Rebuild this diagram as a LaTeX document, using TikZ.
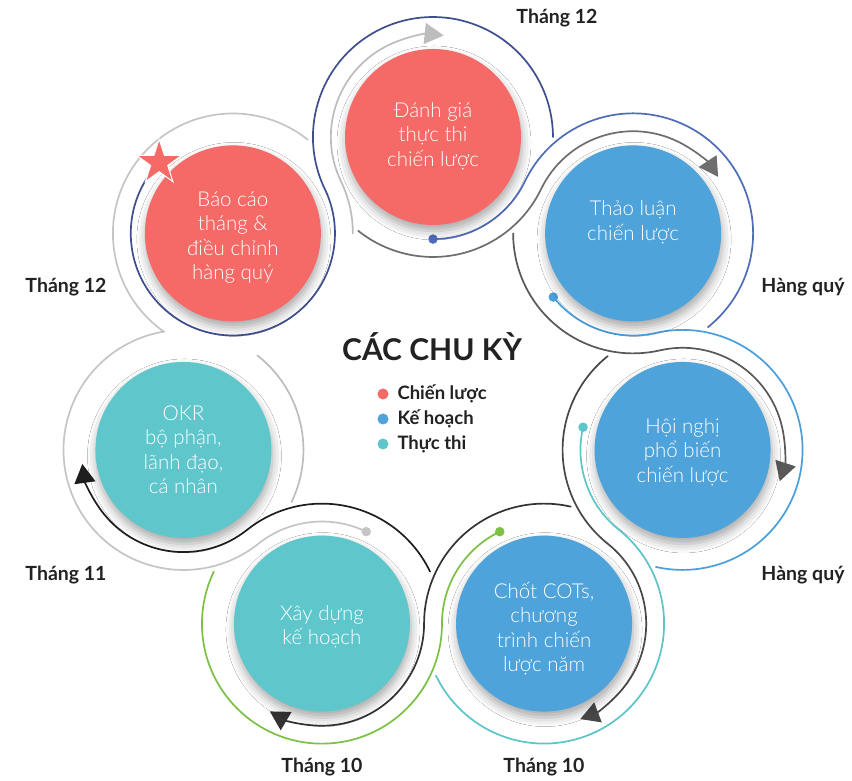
\documentclass[tikz,border=0pt]{standalone}
\usepackage{fontspec}
\setmainfont{Lato}
\newfontfamily\lightfont{Lato Light}
\usetikzlibrary{calc,shapes.geometric,arrows.meta,shadows.blur}
\definecolor{cred}{HTML}{F56A67}
\definecolor{cblue}{HTML}{4FA3DB}
\definecolor{cteal}{HTML}{5FC7CC}
\definecolor{cnavy}{HTML}{3F4E8C}
\definecolor{cbA}{HTML}{4E6CB8}
\definecolor{cbB}{HTML}{4A9FDB}
\definecolor{cbC}{HTML}{5BC6CA}
\definecolor{cbD}{HTML}{7BC143}
\definecolor{cbE}{HTML}{C5C5C5}
\definecolor{caL}{HTML}{BDBDBD}
\definecolor{caA}{HTML}{6E6E6E}
\definecolor{caB}{HTML}{585858}
\definecolor{caC}{HTML}{474747}
\definecolor{caD}{HTML}{333333}
\definecolor{caE}{HTML}{1E1E1E}
\definecolor{ctext}{HTML}{222222}
\tikzset{
  ln/.style={line width=1.7pt, line cap=round},
  arr/.style={-{Triangle[length=19pt,width=21pt]}},
  dotst/.style={circle, inner sep=0pt, minimum size=9.5pt},
  disc/.style={circle, minimum size=176pt, inner sep=0pt,
    blur shadow={shadow xshift=1pt, shadow yshift=-6pt, shadow blur radius=9pt, shadow opacity=35}},
  intext/.style={text=white, align=center, font=\lightfont\fontsize{20.5}{24.5}\selectfont},
  lbl/.style={font=\fontsize{19.5}{23}\selectfont\bfseries, text=ctext},
  leg/.style={font=\fontsize{18.5}{21}\selectfont\bfseries, text=ctext, anchor=west},
  legdot/.style={circle, inner sep=0pt, minimum size=11pt},
}
\begin{document}
\begin{tikzpicture}[x=1pt,y=1pt]
\useasboundingbox (0,0) rectangle (852,781);
\fill[white] (0,0) rectangle (852,781);
\def\R{256}\def\ro{120}\def\ri{102.1}
\coordinate (O) at (433,388);
\foreach \k in {0,...,6} { \coordinate (P\k) at ($(O)+({90-\k*360/7}:\R)$); }

% coloured "dot" lines
\draw[ln, cbA] ($(P0)+(-90:\ri)$) arc[start angle=-90, end angle=-25.7143, radius=\ri]
  arc[start angle=154.2857, end angle=-51.4286, radius=\ro];
\draw[ln, cbB] ($(P1)+(-141.4286:\ri)$) arc[start angle=-141.4286, end angle=-77.1429, radius=\ri]
  arc[start angle=102.8571, end angle=-102.8571, radius=\ro];
\draw[ln, cbC] ($(P2)+(-192.8571:\ri)$) arc[start angle=-192.8571, end angle=-128.5714, radius=\ri]
  arc[start angle=51.4286, end angle=-154.2857, radius=\ro];
\draw[ln, cbD] ($(P3)+(-244.2857:\ri)$) arc[start angle=-244.2857, end angle=-180, radius=\ri]
  arc[start angle=0, end angle=-205.7143, radius=\ro];
\draw[ln, cbE] ($(P4)+(-295.7143:\ri)$) arc[start angle=-295.7143, end angle=-231.4286, radius=\ri]
  arc[start angle=-51.4286, end angle=-260.59, radius=\ro]
  arc[start angle=234.87, end angle=51.4286, radius=\ro];
\node[dotst, fill=cbA] (D0) at ($(P0)+(-90:\ri)$) {};
\node[dotst, fill=cbB] (D1) at ($(P1)+(-141.4286:\ri)$) {};
\node[dotst, fill=cbC] (D2) at ($(P2)+(-192.8571:\ri)$) {};
\node[dotst, fill=cbD] (D3) at ($(P3)+(-244.2857:\ri)$) {};
\node[dotst, fill=cbE] (D4) at ($(P4)+(-295.7143:\ri)$) {};

% navy line from the star
\draw[ln, cnavy] ($(P6)+(136:\ri)$) arc[start angle=136, end angle=385.7143, radius=\ri]
  arc[start angle=205.7143, end angle=0, radius=\ro];

% arrow lines
\draw[ln, caL] ($(P5)+(-25.7143:\ro)$) arc[start angle=-25.7143, end angle=52, radius=\ro];
\draw[ln, caL, arr] ($(P6)+(0:\ro)$) arc[start angle=0, end angle=25.7143, radius=\ro]
  arc[start angle=205.7143, end angle=84, radius=\ri];
\draw[ln, caA, arr] ($(P0)+(231.4286:\ro)$) arc[start angle=231.4286, end angle=334.2857, radius=\ro]
  arc[start angle=154.2857, end angle=33.57, radius=\ri];
\draw[ln, caB, arr] ($(P1)+(180:\ro)$) arc[start angle=180, end angle=282.8571, radius=\ro]
  arc[start angle=102.8571, end angle=-17.86, radius=\ri];
\draw[ln, caC, arr] ($(P2)+(128.5714:\ro)$) arc[start angle=128.5714, end angle=231.4286, radius=\ro]
  arc[start angle=51.4286, end angle=-69.29, radius=\ri];
\draw[ln, caD, arr] ($(P3)+(77.1429:\ro)$) arc[start angle=77.1429, end angle=180, radius=\ro]
  arc[start angle=0, end angle=-120.71, radius=\ri];
\draw[ln, caE, arr] ($(P4)+(25.7143:\ro)$) arc[start angle=25.7143, end angle=128.5714, radius=\ro]
  arc[start angle=-51.4286, end angle=-172.14, radius=\ri];

% discs
\node[disc, fill=cred] (C0) at (P0) {};
\node[disc, fill=cblue] (C1) at (P1) {};
\node[disc, fill=cblue] (C2) at (P2) {};
\node[disc, fill=cblue] (C3) at (P3) {};
\node[disc, fill=cteal] (C4) at (P4) {};
\node[disc, fill=cteal] (C5) at (P5) {};
\node[disc, fill=cred] (C6) at (P6) {};

\node[intext] (T0) at ($(P0)+(0,1)$) {Đánh giá\\thực thi\\chiến lược};
\node[intext] (T1) at ($(P1)+(0,11)$) {Thảo luận\\chiến lược};
\node[intext] (T2) at ($(P2)+(0,-2)$) {Hội nghị\\phổ biến\\chiến lược};
\node[intext] (T3) at ($(P3)+(0,-5)$) {Chốt COTs,\\chương\\trình chiến\\lược năm};
\node[intext] (T4) at ($(P4)+(0,-3)$) {Xây dựng\\kế hoạch};
\node[intext] (T5) at ($(P5)+(0,0)$) {OKR\\bộ phận,\\lãnh đạo,\\cá nhân};
\node[intext] (T6) at ($(P6)+(0,-4)$) {Báo cáo\\tháng \&\\điều chỉnh\\hàng quý};

% star
\node[star, star points=5, star point ratio=2.618, minimum size=47pt, inner sep=0pt,
  fill=cred, draw=white, line width=1pt] (S) at ($(P6)+(136.2:\ri)$) {};

% outer labels
\node[lbl] (L0) at (557,763) {Tháng 12};
\node[lbl] (L1) at (803,494) {Hàng quý};
\node[lbl] (L2) at (803,206) {Hàng quý};
\node[lbl] (L3) at (544,14) {Tháng 10};
\node[lbl] (L4) at (322,14) {Tháng 10};
\node[lbl] (L5) at (66,206) {Tháng 11};
\node[lbl] (L6) at (66,494) {Tháng 12};

% title and legend
\node[font=\fontsize{30}{34}\selectfont\bfseries, text=ctext] (title) at (432,434) {CÁC CHU KỲ};
\node[legdot, fill=cred] (g1) at (383,387) {};
\node[legdot, fill=cblue] (g2) at (383,362) {};
\node[legdot, fill=cteal] (g3) at (383,337) {};
\node[leg] (h1) at (394,387) {Chiến lược};
\node[leg] (h2) at (394,362) {Kế hoạch};
\node[leg] (h3) at (394,337) {Thực thi};
\end{tikzpicture}
\end{document}
